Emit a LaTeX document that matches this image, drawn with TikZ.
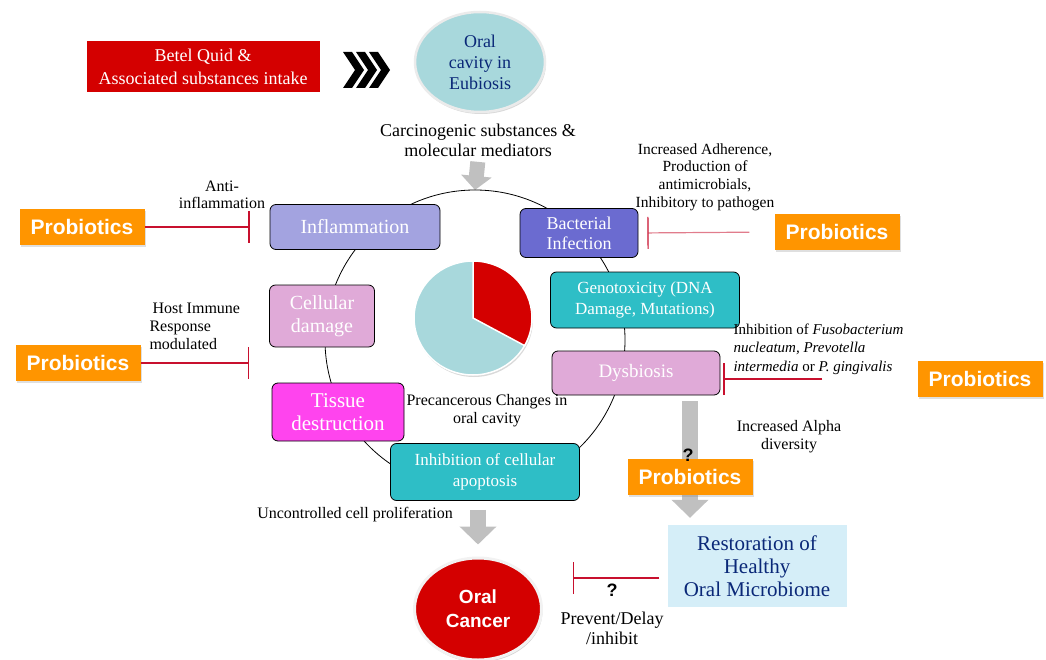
\documentclass[tikz,border=0pt]{standalone}
\usepackage{fontspec}
\setmainfont{Liberation Serif}
\newfontfamily\probfont{Liberation Sans}
\usetikzlibrary{shapes.geometric,arrows.meta,calc,shadows,backgrounds}
\definecolor{betelred}{RGB}{212,0,0}
\definecolor{piecyan}{RGB}{168,216,220}
\definecolor{navytext}{RGB}{10,40,120}
\definecolor{inflfill}{RGB}{163,163,224}
\definecolor{bactfill}{RGB}{107,107,208}
\definecolor{tealfill}{RGB}{46,190,198}
\definecolor{pinkfill}{RGB}{224,170,216}
\definecolor{tissuefill}{RGB}{255,68,238}
\definecolor{probiorange}{RGB}{255,149,0}
\definecolor{restfill}{RGB}{213,238,248}
\definecolor{arrowgray}{RGB}{192,192,192}
\definecolor{inhibred}{RGB}{200,16,46}

\begin{document}
\begin{tikzpicture}[x=1pt,y=-1pt,
  stage/.style={draw=black, line width=0.8pt, rounded corners=6pt, text=white, align=center, inner sep=2pt, font=\fontsize{18}{21}\selectfont},
  probio/.style={fill=probiorange, text=white, minimum width=125pt, minimum height=36pt, inner sep=0pt, font=\probfont\bfseries\fontsize{21}{24}\selectfont, drop shadow={shadow xshift=1pt, shadow yshift=-2pt, opacity=0.25}},
  inhib/.style={draw=inhibred, line width=1.2pt, -{Bar[width=32pt, color=inhibred]}},
  grayarrow/.style={draw=arrowgray, line width=16pt, -{Triangle[width=36pt,length=18pt]}},
  note/.style={align=center, font=\fontsize{16}{18}\selectfont},
  qmark/.style={font=\probfont\bfseries\fontsize{18}{20}\selectfont}]
\useasboundingbox (0,0) rectangle (1046,660);

\draw[line width=0.8pt] (475,340) circle[radius=150];

\node[fill=betelred, text=white, align=center, minimum width=233pt, minimum height=51pt, font=\fontsize{18}{23}\selectfont] (betel) at (203,67) {Betel Quid \&\\Associated substances intake};
\foreach \dx in {0,13,26}
  \fill (343+\dx,52) -- ++(9,0) -- ++(12,18) -- ++(-12,18) -- ++(-9,0) -- ++(12,-18) -- cycle;
\node[ellipse, fill=piecyan, draw=white!92!black, line width=2.5pt, minimum width=130pt, minimum height=100pt, inner sep=0pt, text=navytext, align=center, font=\fontsize{18}{21}\selectfont, drop shadow={shadow xshift=1pt, shadow yshift=-2pt, opacity=0.3}] (eubio) at (480,62) {Oral\\cavity in\\Eubiosis};
\node[note, font=\fontsize{18}{20}\selectfont] (carc) at (478,140) {Carcinogenic substances \&\\molecular mediators};
\coordinate (cyctop) at (475,190);

\node[stage, fill=inflfill, minimum width=170pt, minimum height=45pt, font=\fontsize{20}{23}\selectfont] (infl) at (355,227) {Inflammation};
\node[stage, fill=bactfill, minimum width=118pt, minimum height=49pt, font=\fontsize{18}{20}\selectfont] (bact) at (579,233) {Bacterial\\Infection};
\node[stage, fill=tealfill, minimum width=189pt, minimum height=56pt, font=\fontsize{17}{21}\selectfont] (geno) at (645,300) {Genotoxicity (DNA\\Damage, Mutations)};
\node[stage, fill=pinkfill, minimum width=105pt, minimum height=62pt, font=\fontsize{20}{23}\selectfont] (cell) at (322,316) {Cellular\\damage};
\node[stage, fill=pinkfill, minimum width=168pt, minimum height=44pt, font=\fontsize{19}{22}\selectfont] (dysb) at (636,373) {Dysbiosis};
\node[stage, fill=tissuefill, minimum width=132pt, minimum height=58pt, font=\fontsize{21}{23}\selectfont] (tissue) at (338,412) {Tissue\\destruction};
\node[stage, fill=tealfill, minimum width=189pt, minimum height=57pt, font=\fontsize{17}{21}\selectfont] (apop) at (485,472) {Inhibition of cellular\\apoptosis};

\coordinate (pc) at (473,318);
\fill[piecyan, draw=white, line width=1.5pt, drop shadow={shadow xshift=1pt, shadow yshift=-2pt, opacity=0.3}] (pc) ellipse[x radius=59, y radius=57];
\fill[betelred, draw=white, line width=1.5pt] (pc) -- ($(pc)+(0,-57)$) arc[start angle=-90, end angle=29, x radius=59, y radius=57] -- cycle;
\node[note] (precanc) at (487,411) {Precancerous Changes in\\oral cavity};

\node[probio] (p1) at (82,227) {Probiotics};
\node[probio] (p2) at (837,232) {Probiotics};
\node[probio] (p3) at (78,363) {Probiotics};
\node[probio] (p4) at (980,379) {Probiotics};
\node[probio] (p5) at (690,477) {Probiotics};
\node[qmark] (q1) at (688,455) {?};

\node[note, font=\fontsize{16}{17}\selectfont] (antiinfl) at (222,195) {Anti-\\inflammation};
\node[note, align=left, anchor=west] (hostimm) at (146,326) {\hspace*{3pt}Host Immune\\Response\\modulated};
\node[note, font=\fontsize{15.5}{17.7}\selectfont] (adher) at (705,177) {Increased Adherence,\\Production of\\antimicrobials,\\Inhibitory to pathogen};
\node[note, align=left, anchor=north west, font=\fontsize{15}{18.5}\selectfont] (fuso) at (730,320) {Inhibition of \textit{Fusobacterium}\\\textit{nucleatum, Prevotella}\\\textit{intermedia} or \textit{P. gingivalis}};
\node[note] (alpha) at (789,437) {Increased Alpha\\diversity};
\node[note] (uncontr) at (355,515) {Uncontrolled cell proliferation};

\node[fill=restfill, minimum width=179pt, minimum height=82pt, text=navytext, align=center, font=\fontsize{21}{23}\selectfont] (resto) at (757,566) {Restoration of\\Healthy\\Oral Microbiome};
\node[ellipse, fill=betelred, draw=white!95!black, line width=3pt, minimum width=127pt, minimum height=102pt, inner sep=0pt, text=white, align=center, font=\probfont\bfseries\fontsize{19}{24}\selectfont, drop shadow={shadow xshift=1pt, shadow yshift=-2pt, opacity=0.35}] (cancer) at (478,609) {Oral\\Cancer};
\node[note, font=\fontsize{18}{20}\selectfont] (prevent) at (612,628) {Prevent/Delay\\/inhibit};
\node[qmark] (q2) at (612,590) {?};

\begin{scope}[on background layer]
\draw[grayarrow, line width=15pt, -{Triangle[width=30pt,length=14pt]}, shorten <=2pt] (carc.south) -- (cyctop);
\draw[grayarrow, shorten <=6pt, shorten >=7pt] (p5 |- dysb.south) -- (p5 |- resto.north);
\draw[grayarrow, shorten <=9pt, shorten >=12pt] (cancer |- apop.south) -- (cancer.north);
\end{scope}

\draw[inhib, shorten >=20pt] (p1.east) -- (infl.west);
\draw[inhib, shorten >=20pt] (p3.east) -- (p3.east -| cell.west);
\draw[inhib, draw=inhibred!55, shorten <=25pt, shorten >=9pt] (p2.west) -- (bact.east);
\draw[inhib, shorten <=95pt, shorten >=3pt] (p4.west) -- (p4.west -| dysb.east);
\coordinate (restoin) at ($(resto.west)+(0,12)$);
\draw[inhib, shorten <=8pt, shorten >=30pt] (restoin) -- (restoin -| cancer.east);
\end{tikzpicture}
\end{document}
